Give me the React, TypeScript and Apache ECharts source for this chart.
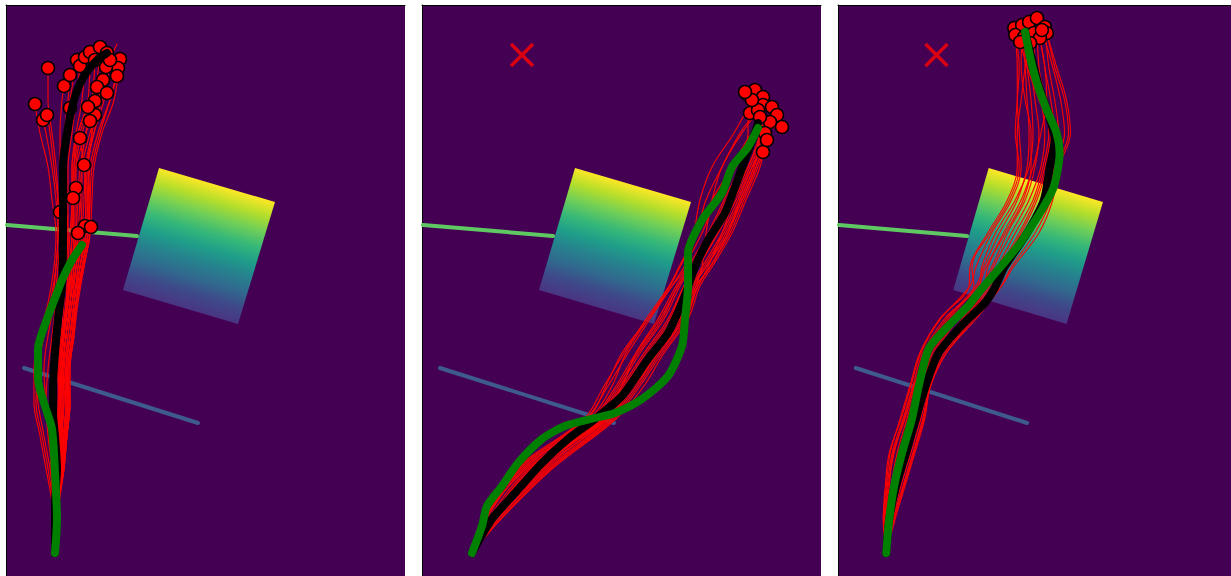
import React, { useEffect, useRef } from "react";
import * as echarts from "echarts";

type Pt = [number, number];

// Scene objects shared by every panel (panel units, y grows downward)
const boxCorners: Pt[] = [[153, 163], [269, 197], [232, 319], [117, 285]];
const greenBar: Pt[] = [[1, 220], [131, 231]];
const blueBar: Pt[] = [[18, 363], [192, 418]];
const goalMark: Pt[] = [[100, 50]];

// ---------- Panel 1 ----------
const p1Mean: Pt[] = [[49, 548], [49, 498], [51, 464], [49, 431], [47, 408], [47, 381], [49, 348], [52, 314], [56, 281], [57, 228], [57, 162], [61, 128], [68, 95], [77, 73], [91, 55], [101, 48]];
const p1Truth: Pt[] = [[49, 548], [51, 514], [49, 468], [46, 424], [39, 401], [32, 374], [32, 344], [41, 314], [51, 288], [56, 275], [66, 255], [76, 240]];
// sampled rollouts: x at each of these heights, then the final point
const p1Levels = [548, 498, 464, 431, 398, 364, 331, 298, 262, 228, 195, 162, 128, 95];
const p1RolloutX: number[][] = [
  [49, 46, 40, 34, 28, 28, 33, 42, 48, 50, 46, 42, 34],
  [49, 48, 44, 38, 32, 30, 35, 44, 50, 52, 50, 46, 40],
  [49, 50, 48, 44, 40, 38, 42, 48, 52, 54, 52, 48, 44],
  [49, 47, 42, 36, 30, 32, 38, 46, 50, 52, 52, 50, 46, 42],
  [49, 52, 56, 60, 62, 60, 62, 66, 70],
  [49, 53, 58, 60, 63, 60, 64, 70, 78],
  [49, 51, 55, 58, 60, 58, 60, 66, 74],
  [49, 48, 46, 42, 40, 42, 46, 50, 54],
  [49, 50, 52, 54, 56, 55, 58, 62, 66, 68],
  [49, 51, 54, 56, 58, 57, 60, 64, 70, 76, 74],
  [49, 52, 57, 60, 62, 62, 66, 70, 76, 82, 82],
  [49, 50, 53, 55, 58, 60, 64, 68, 74, 80, 80, 78],
  [49, 52, 56, 58, 60, 62, 66, 70, 76, 82, 84, 82, 86],
  [49, 53, 58, 61, 64, 61, 64, 68, 72, 78, 80, 80, 86],
  [49, 49, 50, 50, 50, 52, 56, 60, 62, 62, 60, 58, 60],
  [49, 50, 52, 53, 54, 56, 60, 64, 66, 68, 68, 68, 72],
  [49, 51, 54, 56, 57, 58, 62, 66, 70, 74, 76, 76, 80],
  [49, 52, 58, 61, 64, 64, 68, 71, 77, 84, 82, 82, 88, 96],
  [49, 48, 47, 46, 46, 48, 52, 56, 58, 58, 56, 54, 54, 56],
  [49, 50, 51, 52, 53, 54, 58, 62, 64, 66, 68, 70, 80, 92],
  [49, 52, 56, 59, 62, 63, 67, 70, 74, 80, 82, 84, 92, 104],
  [49, 47, 45, 44, 44, 46, 50, 54, 56, 56, 54, 54, 58, 62],
  [49, 51, 55, 58, 61, 62, 66, 70, 76, 82, 84, 86, 94, 104],
  [49, 50, 52, 54, 55, 56, 60, 64, 68, 72, 74, 76, 84, 94],
  [49, 49, 48, 48, 49, 51, 55, 58, 60, 62, 62, 62, 66, 70],
  [49, 48, 46, 45, 46, 48, 52, 55, 58, 58, 58, 58, 60, 64],
  [49, 52, 57, 61, 64, 64, 68, 72, 78, 84, 86, 88, 96, 108],
  [49, 50, 51, 52, 54, 55, 58, 62, 66, 70, 72, 74, 80, 86],
  [49, 51, 54, 57, 60, 60, 64, 68, 72, 76, 78, 80, 88, 98],
  [49, 49, 50, 51, 52, 53, 56, 60, 62, 64, 66, 66, 70, 76],
  [49, 50, 52, 53, 54, 55, 58, 62, 64, 66, 66, 66, 72, 82],
  [49, 51, 53, 55, 56, 57, 60, 64, 68, 70, 70, 70, 76, 88],
  [49, 50, 51, 52, 53, 54, 57, 61, 64, 66, 66, 68, 74, 86],
];
const p1RolloutEnd: Pt[] = [
  [29, 99], [37, 115], [41, 110], [42, 63], [72, 228], [85, 222], [79, 221], [54, 207], [67, 193], [70, 183], [78, 160],
  [74, 133], [84, 116], [89, 110], [64, 103], [82, 102], [89, 96], [101, 88], [58, 81], [97, 75], [111, 71], [64, 70],
  [112, 63], [100, 62], [74, 61], [71, 55], [114, 54], [89, 55], [104, 55], [79, 52], [84, 47], [94, 42], [111, 39],
];
const p1Ends: Pt[] = [[29, 99], [37, 115], [41, 110], [42, 63], [58, 81], [64, 70], [71, 55], [74, 61], [79, 52], [84, 47], [94, 42], [101, 48], [114, 54], [112, 63], [111, 71], [100, 62], [97, 75], [91, 82], [101, 88], [89, 96], [89, 110], [84, 116], [74, 133], [78, 160], [70, 183], [67, 193], [79, 221], [85, 222], [54, 207], [64, 103], [72, 228], [82, 102], [89, 55], [104, 55]];

// ---------- Panel 2 ----------
const p2Mean: Pt[] = [[50, 548], [70, 514], [93, 488], [120, 458], [146, 434], [173, 414], [200, 391], [226, 354], [246, 328], [260, 298], [265, 285], [273, 262], [286, 235], [303, 208], [313, 182], [323, 155], [333, 128], [336, 118]];
const p2Truth: Pt[] = [[50, 548], [60, 521], [65, 501], [80, 481], [96, 458], [120, 434], [143, 421], [173, 413], [193, 408], [220, 394], [246, 371], [260, 341], [263, 314], [266, 281], [266, 248], [280, 215], [300, 188], [310, 162], [326, 142], [336, 123]];
const p2Levels = [548, 514, 464, 414, 381, 348, 314, 281, 262, 228, 195, 162, 128];
const p2RolloutX: number[][] = [
  [50, 60, 96, 164, 186, 206, 228, 250, 262, 280, 294, 314, 326],
  [50, 64, 102, 170, 194, 214, 238, 256, 268, 288, 304, 320, 334],
  [50, 68, 110, 176, 200, 222, 246, 262, 274, 294, 310, 326, 338],
  [50, 72, 118, 182, 208, 230, 254, 268, 280, 300, 316, 330, 342],
  [50, 76, 124, 188, 214, 236, 260, 272, 284, 304, 320, 334, 344],
  [50, 79, 130, 194, 222, 242, 266, 278, 290, 310, 324, 338, 346],
  [50, 62, 100, 168, 190, 204, 226, 248, 258, 276, 290, 310, 330],
  [50, 66, 106, 174, 198, 218, 242, 258, 270, 290, 306, 322, 336],
  [50, 70, 114, 180, 204, 226, 250, 264, 276, 296, 312, 328, 340],
  [50, 74, 120, 186, 212, 234, 258, 270, 282, 302, 318, 332],
  [50, 78, 128, 192, 218, 240, 264, 276, 288, 308, 322, 336],
  [50, 60, 94, 162, 182, 202, 224, 247, 257, 274, 284, 300, 318],
  [50, 64, 98, 166, 184, 200, 226, 250, 264, 272, 278, 290, 312],
  [50, 70, 112, 178, 202, 224, 248, 262, 276, 296, 314, 330],
  [50, 74, 122, 184, 210, 232, 256, 270, 284, 306, 320, 334, 345],
  [50, 68, 108, 172, 196, 216, 240, 256, 270, 292, 308, 326, 338],
  [50, 62, 104, 176, 206, 232, 258, 274, 288, 306, 318, 332, 340],
  [50, 76, 126, 190, 216, 238, 262, 276, 286, 300, 312, 324, 334],
  [50, 66, 114, 184, 212, 236, 262, 274, 280, 284, 290, 300, 320],
  [50, 72, 116, 180, 200, 214, 236, 254, 266, 286, 302, 318, 332],
];
const p2RolloutEnd: Pt[] = [
  [326, 90], [333, 85], [341, 92], [341, 100], [350, 102], [355, 110], [348, 117], [360, 122], [328, 108], [343, 128],
  [341, 147], [336, 105], [330, 95], [345, 135], [338, 112], [323, 87], [355, 110], [348, 117], [341, 100], [333, 85],
];
const p2Ends: Pt[] = [[326, 90], [333, 85], [341, 92], [341, 100], [350, 102], [355, 110], [348, 117], [360, 122], [328, 108], [343, 128], [341, 147], [345, 135], [336, 105], [330, 95], [338, 112], [323, 87]];

// ---------- Panel 3 ----------
const p3Mean: Pt[] = [[49, 548], [52, 514], [59, 481], [69, 448], [79, 414], [89, 381], [102, 348], [125, 321], [149, 298], [159, 283], [169, 262], [192, 228], [209, 195], [215, 162], [220, 135], [214, 110], [205, 85], [197, 55], [190, 27]];
const p3Truth: Pt[] = [[49, 548], [52, 514], [57, 481], [65, 448], [75, 414], [82, 381], [92, 344], [109, 324], [132, 301], [145, 285], [165, 262], [185, 238], [205, 208], [219, 182], [225, 148], [222, 128], [212, 105], [202, 78], [195, 52], [190, 27]];
const p3Levels = [548, 514, 481, 448, 414, 381, 348, 314, 281, 262, 228, 195, 162, 128, 95, 62];
const p3RolloutX: number[][] = [
  [49, 46, 48, 52, 64, 74, 84, 104, 134, 140, 156, 176, 186, 184, 182, 182],
  [49, 48, 52, 56, 68, 78, 88, 110, 140, 148, 164, 182, 192, 194, 192, 190],
  [49, 50, 56, 62, 72, 82, 94, 118, 146, 156, 172, 190, 200, 204, 200, 196],
  [49, 52, 60, 68, 78, 86, 100, 126, 152, 162, 180, 198, 208, 214, 210, 204],
  [49, 55, 64, 74, 84, 92, 106, 134, 158, 170, 190, 206, 216, 224, 220, 214],
  [49, 58, 68, 78, 88, 94, 110, 140, 166, 176, 200, 216, 222, 234, 230, 220],
  [49, 47, 50, 55, 66, 76, 86, 108, 138, 136, 154, 174, 184, 180, 182, 184],
  [49, 49, 54, 60, 70, 80, 92, 114, 144, 146, 160, 180, 194, 198, 196, 192],
  [49, 51, 58, 66, 76, 84, 98, 122, 150, 158, 176, 194, 206, 210, 206, 200],
  [49, 54, 62, 72, 82, 90, 104, 130, 156, 166, 186, 202, 212, 220, 216, 210],
  [49, 56, 66, 76, 86, 93, 108, 136, 162, 172, 196, 212, 220, 230, 226, 218],
  [49, 46, 49, 53, 63, 73, 83, 103, 133, 134, 152, 172, 182, 182, 186, 190],
  [49, 50, 55, 64, 74, 83, 96, 120, 148, 152, 168, 186, 198, 206, 212, 210],
  [49, 53, 60, 70, 80, 88, 102, 128, 154, 164, 184, 200, 210, 216, 204, 192],
  [49, 57, 67, 77, 87, 94, 110, 138, 166, 178, 204, 218, 224, 236, 232, 222],
  [49, 48, 51, 57, 67, 77, 90, 112, 142, 150, 170, 188, 196, 196, 190, 186],
];
const p3RolloutEnd: Pt[] = [
  [179, 23], [187, 20], [194, 17], [202, 13], [210, 22], [212, 28], [180, 30], [189, 32],
  [199, 28], [205, 33], [207, 25], [195, 38], [205, 33], [185, 37], [210, 22], [187, 20],
];
const p3Ends: Pt[] = [[179, 23], [187, 20], [194, 17], [202, 13], [210, 22], [212, 28], [180, 30], [189, 32], [199, 28], [205, 33], [195, 38], [185, 37], [207, 25]];

// Colour ramp of the tilted box, from its top edge to its bottom edge
const boxStops = [
  { offset: 0, color: "#fde725" },
  { offset: 0.12, color: "#b5de2b" },
  { offset: 0.25, color: "#6ece58" },
  { offset: 0.38, color: "#35b779" },
  { offset: 0.5, color: "#1f9e89" },
  { offset: 0.62, color: "#26828e" },
  { offset: 0.75, color: "#31688e" },
  { offset: 0.87, color: "#3e4989" },
  { offset: 1, color: "#4a3583" },
];

const panels = [
  { mean: p1Mean, truth: p1Truth, levels: p1Levels, rx: p1RolloutX, rEnd: p1RolloutEnd, ends: p1Ends, goal: false },
  { mean: p2Mean, truth: p2Truth, levels: p2Levels, rx: p2RolloutX, rEnd: p2RolloutEnd, ends: p2Ends, goal: true },
  { mean: p3Mean, truth: p3Truth, levels: p3Levels, rx: p3RolloutX, rEnd: p3RolloutEnd, ends: p3Ends, goal: true },
];

const X_MAX = 399;
const Y_MAX = 571;
const PANEL_LEFT = [6, 422, 838];
const PANEL_TOP = 5;

function lineSeries(data: Pt[], color: string, width: number, axis: any, z: number, smooth: number | boolean = false, opacity = 1) {
  return {
    type: "line",
    ...axis,
    data,
    z,
    symbol: "none",
    smooth,
    silent: true,
    lineStyle: { color, width, cap: "round", join: "round", opacity },
  };
}

function buildSeries(): any[] {
  const out: any[] = [];
  panels.forEach((p, i) => {
    const axis = { xAxisIndex: i, yAxisIndex: i };
    out.push({
      type: "custom",
      ...axis,
      z: 1,
      silent: true,
      data: [boxCorners.flat()],
      encode: { x: [0, 2, 4, 6], y: [1, 3, 5, 7] },
      renderItem: (_params: any, api: any) => {
        const pts = [0, 1, 2, 3].map((k) => api.coord([api.value(2 * k), api.value(2 * k + 1)]));
        const top = [(pts[0][0] + pts[1][0]) / 2, (pts[0][1] + pts[1][1]) / 2];
        const bot = [(pts[3][0] + pts[2][0]) / 2, (pts[3][1] + pts[2][1]) / 2];
        return {
          type: "polygon",
          shape: { points: pts },
          style: {
            fill: new echarts.graphic.LinearGradient(top[0], top[1], bot[0], bot[1], boxStops, true),
          },
        };
      },
    });
    out.push(lineSeries(greenBar, "#5ec962", 4, axis, 2));
    out.push(lineSeries(blueBar, "#3e5a8e", 4, axis, 2));
    p.rx.forEach((xs, k) => {
      const pts: Pt[] = xs.map((x, j) => [x, p.levels[j]] as Pt);
      pts.push(p.rEnd[k]);
      out.push(lineSeries(pts, "#ff0000", 1.1, axis, 3, 0.35, 1));
    });
    out.push({
      type: "scatter",
      ...axis,
      z: 4,
      silent: true,
      data: p.ends,
      symbol: "circle",
      symbolSize: 13,
      itemStyle: { color: "#ff0000", borderColor: "#000000", borderWidth: 1.5, opacity: 1 },
    });
    out.push(lineSeries(p.mean, "#000000", 8, axis, 5, 0.25));
    out.push(lineSeries(p.truth, "#008000", 8, axis, 6, 0.25));
    if (p.goal) {
      out.push({
        type: "scatter",
        ...axis,
        z: 7,
        silent: true,
        data: goalMark,
        symbol: "path://M0,0L10,10M10,0L0,10",
        symbolSize: 22,
        itemStyle: { color: "rgba(0,0,0,0)", borderColor: "#ff0000", borderWidth: 3.5 },
      });
    }
  });
  return out;
}

export default function App() {
  const ref = useRef<HTMLDivElement>(null);

  useEffect(() => {
    if (!ref.current) return;
    const chart = echarts.init(ref.current, null, { renderer: "svg" });
    const grid = PANEL_LEFT.map((left) => ({
      left,
      top: PANEL_TOP,
      width: X_MAX,
      height: Y_MAX,
      show: true,
      backgroundColor: "#440154",
      borderWidth: 0,
    }));
    const hidden = { axisTick: { show: false }, axisLabel: { show: false }, splitLine: { show: false } };
    const spine = { show: true, onZero: false, lineStyle: { color: "#000000", width: 1 } };
    chart.setOption({
      animation: false,
      backgroundColor: "#ffffff",
      grid,
      xAxis: PANEL_LEFT.map((_, i) => ({
        gridIndex: i,
        type: "value",
        min: 0,
        max: X_MAX,
        position: "top",
        axisLine: spine,
        ...hidden,
      })),
      yAxis: PANEL_LEFT.map((_, i) => ({
        gridIndex: i,
        type: "value",
        min: 0,
        max: Y_MAX,
        inverse: true,
        axisLine: spine,
        ...hidden,
      })),
      series: buildSeries(),
    });
    return () => chart.dispose();
  }, []);

  return (
    <div
      ref={ref}
      style={{ position: "fixed", left: 0, top: 0, width: 1231, height: 576, background: "#ffffff" }}
    />
  );
}
